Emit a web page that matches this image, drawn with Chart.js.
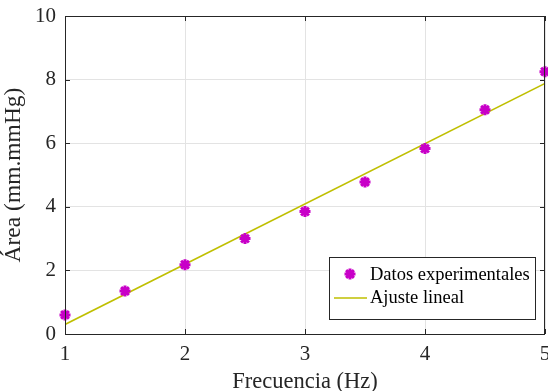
<!DOCTYPE html>
<html>
<head>
<meta charset="utf-8">
<script src="https://cdn.jsdelivr.net/npm/chart.js@4/dist/chart.umd.min.js"></script>
<style>
  html, body { margin: 0; padding: 0; background: #fff; }
  #wrap { width: 548px; height: 391px; }
</style>
</head>
<body>
<div id="wrap"><canvas id="c" width="548" height="391"></canvas></div>
<script>
// datos
const frecuencia = [1, 1.5, 2, 2.5, 3, 3.5, 4, 4.5, 5];
const area = [0.6, 1.35, 2.18, 3.0, 3.85, 4.78, 5.83, 7.05, 8.25];
const ajusteX = [1, 5];
const ajusteY = [0.3, 7.88];
const xTicks = [1, 2, 3, 4, 5];
const yTicks = [0, 2, 4, 6, 8, 10];

const fontFam = "'Liberation Serif', 'Times New Roman', serif";
const axisColor = "#262626";

// caja de ejes + ticks hacia adentro + leyenda dentro del area
const boxPlugin = {
  id: "boxPlugin",
  afterDatasetsDraw(chart) {
    const { ctx, chartArea: a, scales } = chart;
    ctx.save();
    ctx.strokeStyle = axisColor;
    ctx.lineWidth = 1;
    ctx.strokeRect(a.left + 0.5, a.top + 0.5, a.right - a.left - 1, a.bottom - a.top);
    ctx.beginPath();
    xTicks.forEach(v => {
      const x = Math.round(scales.x.getPixelForValue(v)) + 0.5;
      ctx.moveTo(x, a.bottom); ctx.lineTo(x, a.bottom - 5);
      ctx.moveTo(x, a.top); ctx.lineTo(x, a.top + 5);
    });
    yTicks.forEach(v => {
      const y = Math.round(scales.y.getPixelForValue(v)) + 0.5;
      ctx.moveTo(a.left, y); ctx.lineTo(a.left + 5, y);
      ctx.moveTo(a.right, y); ctx.lineTo(a.right - 5, y);
    });
    ctx.stroke();

    // leyenda
    const lx = 329, ly = 257, lw = 206, lh = 62;
    ctx.fillStyle = "#fff";
    ctx.fillRect(lx, ly, lw, lh);
    ctx.strokeStyle = axisColor;
    ctx.strokeRect(lx + 0.5, ly + 0.5, lw, lh);
    ctx.font = "18.5px " + fontFam;
    ctx.textBaseline = "middle";
    const ds = chart.data.datasets;
    ctx.strokeStyle = ds[0].borderColor;
    ctx.fillStyle = ds[0].backgroundColor;
    ctx.lineWidth = 3;
    Chart.helpers.drawPoint(ctx, {
      pointStyle: "star", radius: 5.5, borderWidth: 3
    }, lx + 21, ly + 17);
    ctx.fillStyle = "#000";
    ctx.fillText(ds[0].label, lx + 41, ly + 18);
    ctx.beginPath();
    ctx.strokeStyle = ds[1].borderColor;
    ctx.lineWidth = 1.5;
    ctx.moveTo(lx + 5, ly + 41); ctx.lineTo(lx + 38, ly + 41);
    ctx.stroke();
    ctx.fillText(ds[1].label, lx + 41, ly + 41);
    ctx.restore();
  }
};

new Chart(document.getElementById("c"), {
  type: "scatter",
  data: {
    datasets: [
      {
        label: "Datos experimentales",
        data: frecuencia.map((f, i) => ({ x: f, y: area[i] })),
        pointStyle: "star",
        pointRadius: 5.5,
        pointBorderWidth: 3,
        borderColor: "#c800c8",
        backgroundColor: "#c800c8",
        clip: false,
        order: 1
      },
      {
        label: "Ajuste lineal",
        type: "line",
        data: ajusteX.map((f, i) => ({ x: f, y: ajusteY[i] })),
        borderColor: "#bfbf00",
        backgroundColor: "#bfbf00",
        borderWidth: 1.5,
        pointRadius: 0,
        showLine: true,
        order: 2
      }
    ]
  },
  options: {
    responsive: false,
    animation: false,
    layout: { autoPadding: false, padding: { top: 16, right: 3, left: 0, bottom: 0 } },
    plugins: {
      legend: { display: false },
      tooltip: { enabled: false }
    },
    scales: {
      x: {
        type: "linear",
        min: 1, max: 5,
        afterBuildTicks: s => { s.ticks = xTicks.map(v => ({ value: v })); },
        afterFit: s => { s.height = 57; s.paddingLeft = 0; s.paddingRight = 0; },
        grid: { color: "#e3e3e3", tickLength: 0, drawTicks: false },
        border: { display: false },
        ticks: { color: axisColor, padding: 8, font: { family: fontFam, size: 21 } },
        title: {
          display: true, text: "Frecuencia (Hz)", color: axisColor,
          padding: { top: 0, bottom: -5 }, font: { family: fontFam, size: 22.5 }
        }
      },
      y: {
        min: 0, max: 10,
        afterBuildTicks: s => { s.ticks = yTicks.map(v => ({ value: v })); },
        afterFit: s => { s.width = 65; s.paddingTop = 0; s.paddingBottom = 0; },
        grid: { color: "#e3e3e3", tickLength: 0, drawTicks: false },
        border: { display: false },
        ticks: { color: axisColor, padding: 9, font: { family: fontFam, size: 21 } },
        title: {
          display: true, text: "Área (mm.mmHg)", color: axisColor,
          padding: { top: 0, bottom: 0 }, font: { family: fontFam, size: 23.5 }
        }
      }
    }
  },
  plugins: [boxPlugin]
});
</script>
</body>
</html>
